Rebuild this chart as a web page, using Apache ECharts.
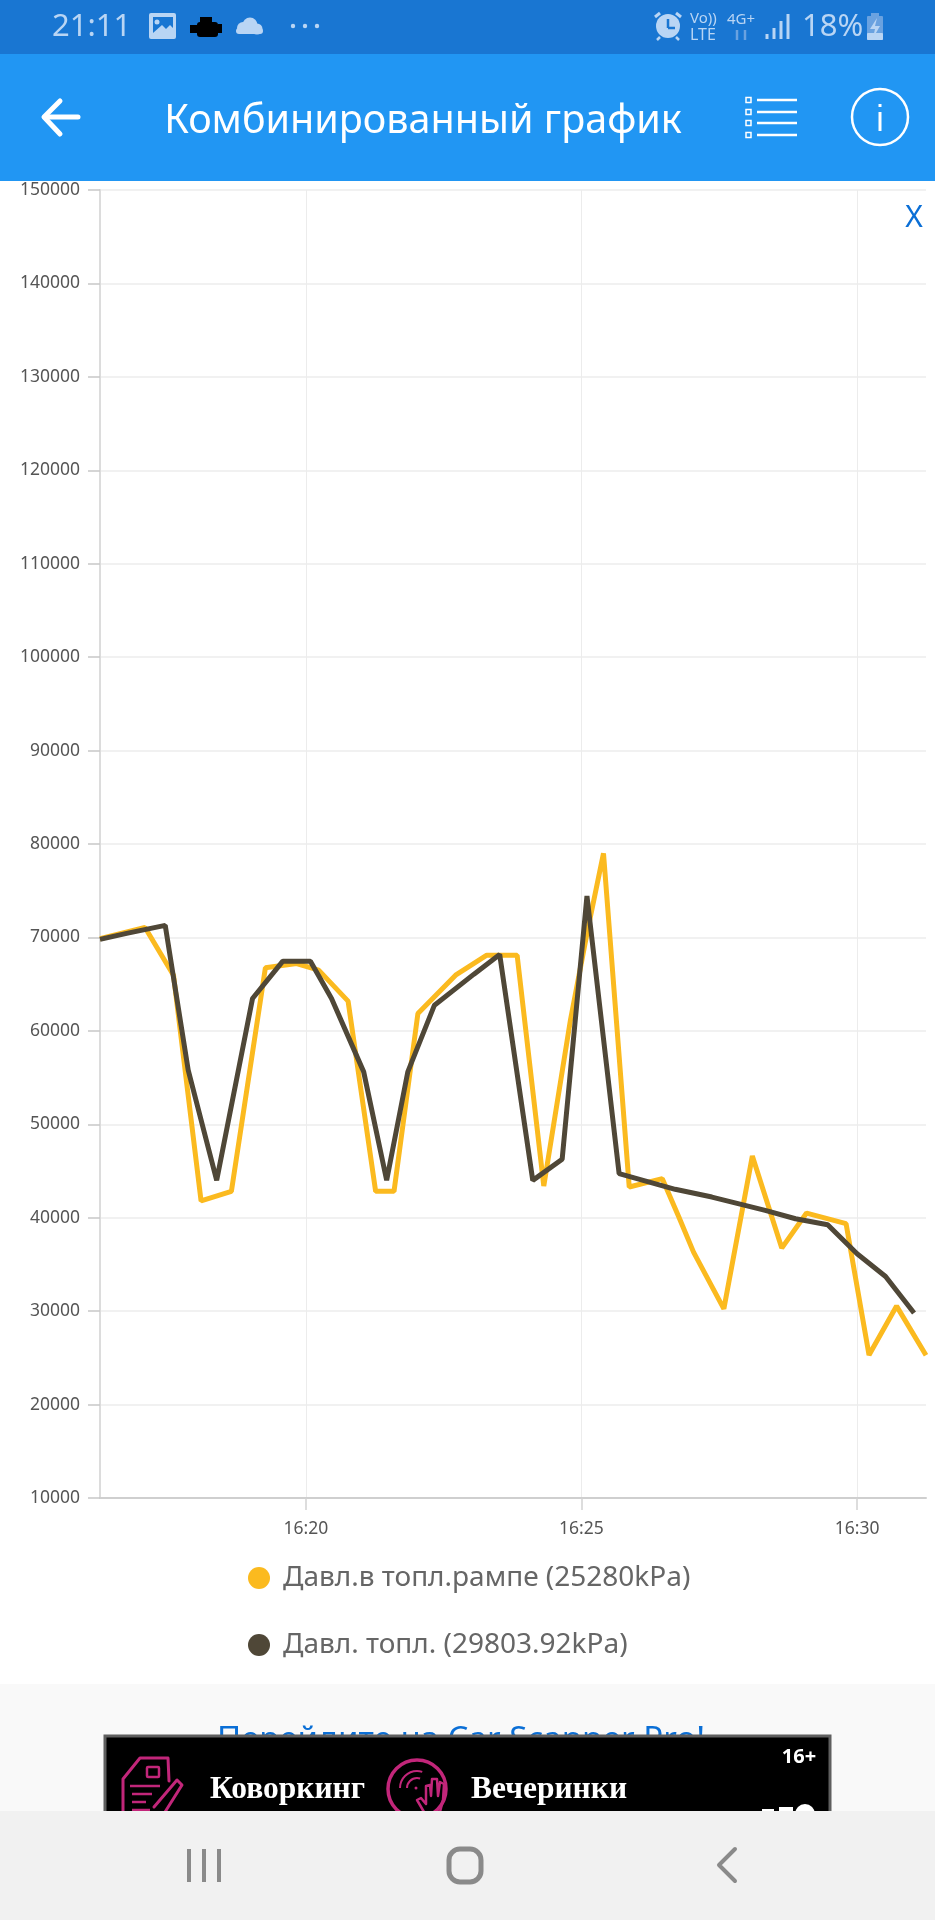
<!DOCTYPE html>
<html><head><meta charset="utf-8">
<style>html,body{margin:0;padding:0;background:#fff}#c{width:935px;height:1920px}</style>
<script src="https://cdn.jsdelivr.net/npm/echarts@6/dist/echarts.min.js"></script>
</head><body><div id="c"></div>
<script>
const railName = "Давл.в топл.рампе (25280kPa)";
const fuelName = "Давл. топл. (29803.92kPa)";
const railTimes = ["16:16:16","16:17:05","16:17:36","16:18:06","16:18:39","16:19:16","16:19:50","16:20:14","16:20:46","16:21:16","16:21:36","16:22:02","16:22:43","16:23:17","16:23:50","16:24:19","16:24:48","16:25:06","16:25:24","16:25:52","16:26:28","16:26:46","16:27:02","16:27:35","16:28:06","16:28:38","16:29:05","16:29:48","16:30:13","16:30:43","16:31:15"];
const railValues = [69860,71070,65960,41790,42820,66750,67210,66500,63180,42820,42820,61860,65960,68100,68100,43390,61140,70430,79000,43290,44180,40070,36320,30250,46610,36750,40500,39360,25300,30540,25280];
const fuelTimes = ["16:16:16","16:16:45","16:17:27","16:17:52","16:18:23","16:19:02","16:19:35","16:20:05","16:20:28","16:21:03","16:21:28","16:21:51","16:22:20","16:23:03","16:23:31","16:24:07","16:24:39","16:25:06","16:25:41","16:26:42","16:27:22","16:28:20","16:28:53","16:29:28","16:30:00","16:30:31","16:31:02"];
const fuelValues = [69790,70430,71290,55790,44000,63460,67460,67460,63460,55610,44000,55610,62750,66070,68180,44000,46250,74430,44710,43040,42210,40790,39890,39250,36140,33710,29804];
const xTicks = ["16:20:00","16:25:00","16:30:00"];
const yTicks = [10000,20000,30000,40000,50000,60000,70000,80000,90000,100000,110000,120000,130000,140000,150000];
const axisStart = "16:16:16", axisEnd = "16:31:15";
const railColor = "#fbba1f", fuelColor = "#4f4737";
const FONT = '"Noto Sans"';
const T = s => { const p = s.split(':').map(Number); return p[0]*3600 + p[1]*60 + p[2]; };
const pairs = (ts, vs) => ts.map((t, i) => [T(t), vs[i]]);
const xTickValues = xTicks.map(T);
const clock = v => String(Math.floor(v/3600)).padStart(2,'0') + ':' + String(Math.floor(v%3600/60)).padStart(2,'0');

const light = "#b9d5f4", mid = "#6aa2e0", grey = "#8a8a8a", pink = "#c2267a";
const rect = (x,y,w,h,fill,z,r,extra) => Object.assign({type:'rect',shape:{x,y,width:w,height:h,r:r||0},style:{fill},z:z||100,silent:true},extra||{});
const sline = (x1,y1,x2,y2,stroke,w,z) => ({type:'line',shape:{x1,y1,x2,y2},style:{stroke,lineWidth:w},z:z||101,silent:true});
const poly = (points,stroke,w,z) => ({type:'polyline',shape:{points},style:{stroke,lineWidth:w,fill:'none',lineCap:'round',lineJoin:'round'},z:z||101,silent:true});
const pgon = (points,fill,z) => ({type:'polygon',shape:{points},style:{fill},z:z||101,silent:true});
const circ = (cx,cy,r,fill,stroke,w,z) => ({type:'circle',shape:{cx,cy,r},style:{fill:fill||'none',stroke:stroke||'none',lineWidth:w||0},z:z||101,silent:true});
const arc = (cx,cy,r,a0,a1,stroke,w,z) => ({type:'arc',shape:{cx,cy,r,startAngle:a0,endAngle:a1,clockwise:true},style:{stroke,lineWidth:w,fill:'none'},z:z||101,silent:true});
const txt = (x,y,text,size,fill,align,z,weight,family) => ({type:'text',x,y,style:{text,fontSize:size,fill,align:align||'left',verticalAlign:'middle',fontFamily:family||FONT,fontWeight:weight||'normal'},z:z||101,silent:true});

const graphic = [
  // page bands
  rect(0,1684,935,127,"#f9f9f9",5),
  txt(461,1741,"Перейдите на Car Scanner Pro!",33,"#0b6fd6","center",6),
  // ad
  rect(105,1736,725,80,"#000",7,0,{style:{fill:"#000",stroke:"#5f5f5f",lineWidth:3}}),
  txt(210,1790,"Коворкинг",31.5,"#fff","left",8,"bold",'"Liberation Serif"'),
  txt(471,1790,"Вечеринки",31.5,"#fff","left",8,"bold",'"Liberation Serif"'),
  txt(799,1757,"16+",20,"#fff","center",8,"bold"),
  poly([[123,1812],[123,1779],[140,1758],[168,1758],[169,1781]],pink,3,8),
  rect(147,1767,12,10,"none",8,1,{style:{fill:'none',stroke:pink,lineWidth:2.5}}),
  sline(130,1786,160,1786,pink,2.5,8), sline(132,1794,152,1794,pink,2.5,8), sline(132,1802,146,1802,pink,2.5,8), sline(132,1810,150,1810,pink,2.5,8),
  poly([[154,1807],[177,1780],[182,1785],[165,1812]],pink,3,8),
  circ(417,1789,29,"none",pink,3.5,8),
  arc(417,1788,10,Math.PI,Math.PI*1.6,pink,2,8),
  arc(417,1788,17,Math.PI,Math.PI*1.6,pink,2,8),
  circ(416,1788,1.5,pink,null,0,8),
  poly([[424,1812],[417,1800],[421,1798],[426,1804],[426,1786],[430,1785],[431,1796],[432,1779],[437,1779],[438,1796],[440,1782],[444,1784],[443,1800],[440,1812]],pink,2.5,8),
  circ(805,1814,10,"#fff",null,0,8), rect(779,1807,14,6,"#fff",8), rect(762,1809,12,4,"#fff",8),
  // nav bar
  rect(0,1811,935,109,"#f1f1f1",20),
  sline(189,1849,189,1882,grey,4,21), sline(204,1849,204,1882,grey,4,21), sline(219,1849,219,1882,grey,4,21),
  rect(449,1849,32,33,"none",21,11,{style:{fill:'none',stroke:grey,lineWidth:5}}),
  poly([[735,1849],[719,1865],[735,1881]],grey,4,21),
  // app bar + status bar
  rect(0,54,935,127,"#2196f3",100),
  rect(0,0,935,54,"#1976d2",100),
  txt(52,27,"21:11",31,light),
  rect(149,13,27,26,light,101,2),
  rect(153,17,20,16,"#1976d2",102),
  pgon([[153,33],[162,25],[166,29],[170,25],[173,28],[173,33]],light,103),
  circ(157,22,2.5,light,null,0,103),
  rect(197,22,21,15,"#000",101,3), rect(200,17,12,5,"#000"), rect(190,25,7,8,"#000"), rect(218,24,4,9,"#000"),
  circ(243,28,6,light), circ(250,25,7.5,light), circ(257,29,5.5,light), rect(236,28,27,6,light,101,3),
  circ(293,26,2.2,light), circ(305,26,2.2,light), circ(317,26,2.2,light),
  circ(668,26,12,light), sline(668,19,668,28,"#1976d2",2.5,102), sline(668,28,675,28,"#1976d2",2.5,102),
  sline(655,17,660,13,light,3), sline(676,13,681,17,light,3), sline(660,37,657,40,light,2.5), sline(676,37,679,40,light,2.5),
  txt(690,19,"Vo))",15,light), txt(690,35,"LTE",16,light),
  txt(727,20,"4G+",15,light), sline(737,30,737,40,mid,2.5), sline(745,30,745,40,mid,2.5),
  sline(767,34,767,39,light,3), sline(774,28,774,39,light,3), sline(781,21,781,39,light,3), sline(788,14,788,39,light,3),
  txt(802,27,"18%",31,light),
  rect(867,16,16,24,mid,101,1), rect(871,13,8,3,mid), rect(867,33,16,7,light,101,1),
  pgon([[877,18],[870,29],[875,29],[873,38],[880,26],[875,26]],light,102),
  // app bar icons
  poly([[78,117],[45,117]],"#fff",5), poly([[60,101],[44,117],[60,134]],"#fff",5),
  txt(423,122,"Комбинированный график",39.5,"#fff","center"),
  ...[100,112,123,135].flatMap(y => [
    rect(746,y-2.5,5,5,"none",101,0,{style:{fill:'none',stroke:"#fff",lineWidth:1.5}}),
    sline(757,y,797,y,"#fff",2.5)
  ]),
  circ(880,117,28,"none","#fff",2.5),
  rect(878.5,112,3,19,"#fff"), rect(878.5,104,3,3,"#fff"),
  // close X inside the chart
  txt(914,218,"X",30,"#0b6fd6","center",30)
];

const chart = echarts.init(document.getElementById('c'), null, {renderer:'canvas'});
chart.setOption({
  animation:false,
  backgroundColor:'#fff',
  textStyle:{fontFamily:FONT},
  grid:{left:100,right:9,top:190,bottom:422,containLabel:false},
  xAxis:{type:'value',min:T(axisStart),max:T(axisEnd),
    axisLine:{show:true,onZero:false,lineStyle:{color:'#cfcfcf',width:2}},
    axisTick:{show:true,inside:false,length:12,customValues:xTickValues,lineStyle:{color:'#d2d2d2',width:1.5}},
    splitLine:{show:true,lineStyle:{color:'#ececec',width:1}},
    minorTick:{show:false},
    axisLabel:{fontSize:17.5,color:'#555',margin:22,fontFamily:FONT,customValues:xTickValues,hideOverlap:false,
      formatter:v=>clock(v)}},
  yAxis:{type:'value',min:10000,max:150000,interval:10000,
    axisLine:{show:true,onZero:false,lineStyle:{color:'#dcdcdc',width:2}},
    axisTick:{show:true,inside:false,length:12,customValues:yTicks,lineStyle:{color:'#c8c8c8',width:1.5}},
    splitLine:{show:true,lineStyle:{color:'#ececec',width:1.5}},
    axisLabel:{fontSize:17.5,color:'#555',margin:20,fontFamily:FONT,customValues:yTicks,formatter:v=>String(v)}},
  legend:{orient:'vertical',left:243,top:1559,itemWidth:22,itemHeight:22,itemGap:39,icon:'circle',
    textStyle:{fontSize:28,color:'#666',fontFamily:FONT,padding:[0,0,0,8]},
    data:[railName,fuelName]},
  tooltip:{show:false},
  series:[
    {name:railName,type:'line',data:pairs(railTimes,railValues),showSymbol:false,color:railColor,z:2,
      lineStyle:{width:5,color:railColor,join:'bevel',cap:'butt'},itemStyle:{color:railColor}},
    {name:fuelName,type:'line',data:pairs(fuelTimes,fuelValues),showSymbol:false,color:fuelColor,z:3,
      lineStyle:{width:5,color:fuelColor,join:'bevel',cap:'butt'},itemStyle:{color:fuelColor}}
  ],
  graphic:{elements:graphic}
});
</script></body></html>
